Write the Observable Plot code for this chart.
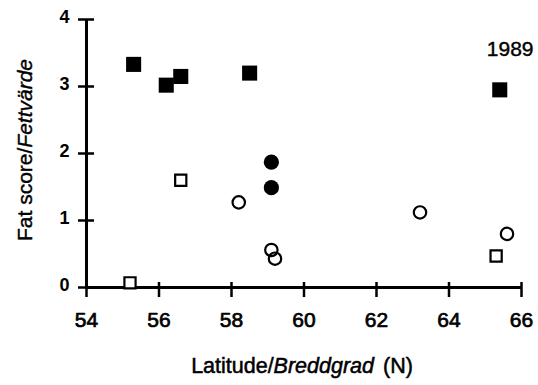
<!DOCTYPE html>
<html>
<head>
<meta charset="utf-8">
<script src="https://cdn.jsdelivr.net/npm/d3@7"></script>
<script src="https://cdn.jsdelivr.net/npm/@observablehq/plot@0.6"></script>
<style>
  html, body { margin: 0; padding: 0; background: #fff; }
  #chart svg { display: block; }
</style>
</head>
<body>
<div id="chart"></div>
<script>
// Data (latitude °N, fat score)
const filledSquareLat = [55.3, 56.2, 56.6, 58.5, 65.4];
const filledSquareFat = [3.33, 3.02, 3.15, 3.20, 2.95];
const openSquareLat = [55.2, 56.6, 65.3];
const openSquareFat = [0.07, 1.60, 0.47];
const filledCircleLat = [59.1, 59.1];
const filledCircleFat = [1.87, 1.49];
const openCircleLat = [58.2, 59.1, 59.2, 63.2, 65.6];
const openCircleFat = [1.27, 0.56, 0.43, 1.12, 0.80];
const xTicks = [54, 56, 58, 60, 62, 64, 66];
const yTicks = [0, 1, 2, 3, 4];
const yearLabel = ["1989"];

const pts = (lat, fat) => lat.map((x, i) => ({x, y: fat[i]}));
const font = "'Liberation Sans', Arial, Helvetica, sans-serif";

const plot = Plot.plot({
  width: 538,
  height: 385,
  marginLeft: 86,
  marginRight: 17,
  marginTop: 19,
  marginBottom: 98,
  style: {fontFamily: font, background: "#fff", color: "#000"},
  x: {domain: [54, 66], axis: null},
  y: {domain: [0, 4], axis: null},
  marks: [
    // axis lines
    Plot.ruleY([0], {x1: 54, x2: 66, stroke: "#000", strokeWidth: 3}),
    Plot.ruleX([54], {y1: 0, y2: 4, stroke: "#000", strokeWidth: 3}),
    // crossing ticks
    Plot.ruleY(yTicks, {y: d => d, x1: 54, x2: 54, insetLeft: -8, insetRight: -8, stroke: "#000", strokeWidth: 2.5}),
    Plot.ruleX(xTicks, {x: d => d, y1: 0, y2: 0, insetTop: -5, insetBottom: -10, stroke: "#000", strokeWidth: 2.5}),
    // tick labels
    Plot.text(yTicks, {x: 54, y: d => d, text: d => String(d), textAnchor: "end", dx: -17, dy: -2, fontSize: 18, fontWeight: "bold", fill: "#000"}),
    Plot.text(xTicks, {x: d => d, y: 0, text: d => String(d), textAnchor: "middle", dy: 33, fontSize: 21, fill: "#000", stroke: "#000", strokeWidth: 0.7}),
    // data
    Plot.dot(pts(filledSquareLat, filledSquareFat), {x: "x", y: "y", symbol: "square", r: 8.5, fill: "#000", stroke: "none"}),
    Plot.dot(pts(openSquareLat, openSquareFat), {x: "x", y: "y", symbol: "square", r: 6.3, fill: "#fff", stroke: "#000", strokeWidth: 2.2}),
    Plot.dot(pts(filledCircleLat, filledCircleFat), {x: "x", y: "y", symbol: "circle", r: 7.6, fill: "#000", stroke: "none"}),
    Plot.dot(pts(openCircleLat, openCircleFat), {x: "x", y: "y", symbol: "circle", r: 6.2, fill: "none", stroke: "#000", strokeWidth: 2.2}),
    // year
    Plot.text(yearLabel, {frameAnchor: "top-right", text: d => d, textAnchor: "end", dx: 12, dy: 22, fontSize: 21, fill: "#000", stroke: "#000", strokeWidth: 0.4})
  ]
});

const svg = d3.select(plot);
// x-axis title
const xt = svg.append("text")
  .attr("x", 302).attr("y", 373)
  .attr("text-anchor", "middle")
  .attr("font-family", font).attr("font-size", 21.5).attr("fill", "#000")
  .attr("stroke", "#000").attr("stroke-width", 0.5);
xt.append("tspan").text("Latitude/");
xt.append("tspan").attr("font-style", "italic").text("Breddgrad");
xt.append("tspan").attr("dx", 9).text("(N)");
// y-axis title
const yt = svg.append("text")
  .attr("transform", "translate(32,150) rotate(-90)")
  .attr("text-anchor", "middle")
  .attr("font-family", font).attr("font-size", 21).attr("fill", "#000")
  .attr("stroke", "#000").attr("stroke-width", 0.4);
yt.append("tspan").text("Fat score/");
yt.append("tspan").attr("font-style", "italic").text("Fettvärde");

document.getElementById("chart").appendChild(plot);
</script>
</body>
</html>
